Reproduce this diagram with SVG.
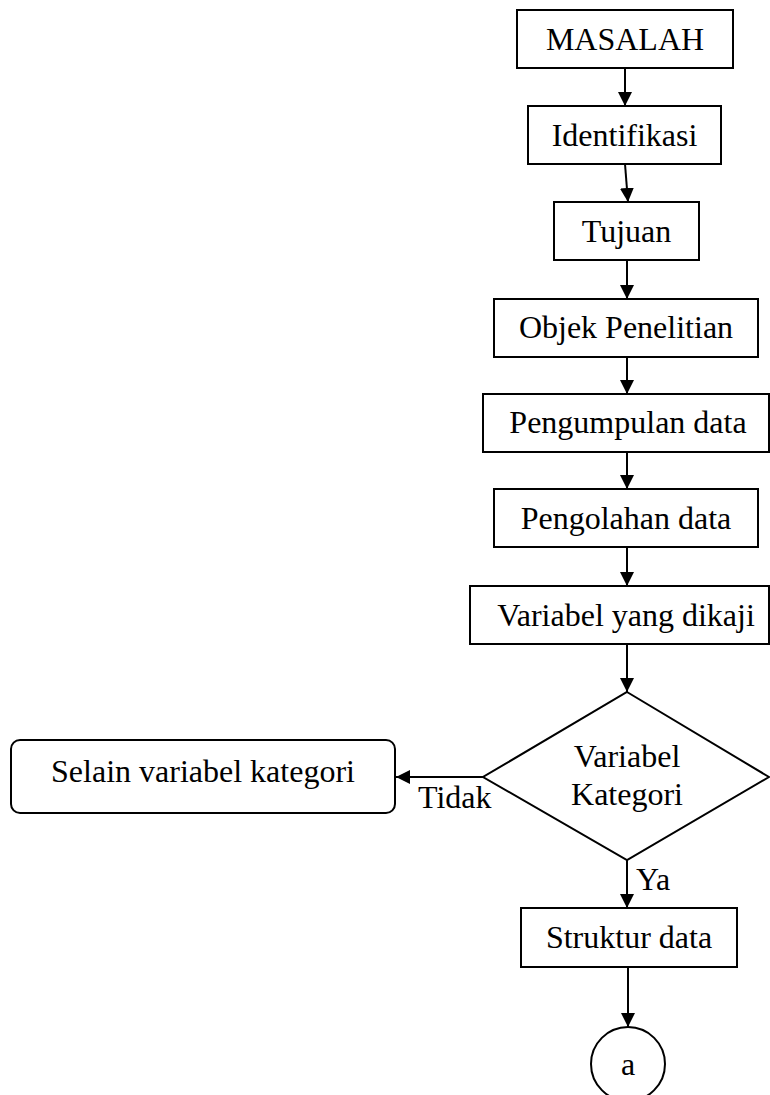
<svg xmlns="http://www.w3.org/2000/svg" width="770" height="1095" viewBox="0 0 770 1095">
<style>
.box{fill:#fff;stroke:#000;stroke-width:2}
text{font-family:'Liberation Serif','Times New Roman','DejaVu Serif',serif;font-size:32px;fill:#000}
.t{text-anchor:middle}
.c{stroke:#000;stroke-width:2;fill:none;marker-end:url(#ah)}
</style>
<defs>
<marker id="ah" markerUnits="userSpaceOnUse" markerWidth="14" markerHeight="16" viewBox="0 0 14 16" refX="14" refY="8" orient="auto">
<path d="M0,1 L14,8 L0,15 Z" fill="#000"/>
</marker>
</defs>
<g id="connectors">
<line class="c" x1="625" y1="68" x2="625" y2="106"/>
<line class="c" x1="625" y1="164" x2="628" y2="202"/>
<line class="c" x1="627" y1="260" x2="627" y2="299"/>
<line class="c" x1="627" y1="357" x2="627" y2="394"/>
<line class="c" x1="627" y1="452" x2="627" y2="489"/>
<line class="c" x1="627" y1="547" x2="627" y2="586"/>
<line class="c" x1="627" y1="644" x2="627" y2="692"/>
<line class="c" x1="483" y1="777" x2="396" y2="777"/>
<line class="c" x1="627" y1="860" x2="627" y2="908"/>
<line class="c" x1="628" y1="967" x2="628" y2="1027"/>
<text x="418" y="808">Tidak</text>
<text x="636" y="890">Ya</text>
</g>
<g id="n-masalah">
<rect class="box" x="517" y="10" width="216" height="58"/>
<text class="t" x="625" y="50">MASALAH</text>
</g>
<g id="n-identifikasi">
<rect class="box" x="528" y="106" width="193" height="58"/>
<text class="t" x="624.5" y="146">Identifikasi</text>
</g>
<g id="n-tujuan">
<rect class="box" x="554" y="202" width="145" height="58"/>
<text class="t" x="626.5" y="242">Tujuan</text>
</g>
<g id="n-objek">
<rect class="box" x="494" y="299" width="264" height="58"/>
<text class="t" x="626" y="338">Objek Penelitian</text>
</g>
<g id="n-pengumpulan">
<rect class="box" x="483" y="394" width="286" height="58"/>
<text class="t" x="628" y="433">Pengumpulan data</text>
</g>
<g id="n-pengolahan">
<rect class="box" x="494" y="489" width="264" height="58"/>
<text class="t" x="626" y="529">Pengolahan data</text>
</g>
<g id="n-variabel">
<rect class="box" x="470" y="586" width="299" height="58"/>
<text class="t" x="626" y="626">Variabel yang dikaji</text>
</g>
<g id="n-decision">
<polygon class="box" points="627,692 769,777 627,860 483,777"/>
<text class="t" x="627" y="767">Variabel</text>
<text class="t" x="627" y="805">Kategori</text>
</g>
<g id="n-selain">
<rect class="box" x="11" y="740" width="384" height="73" rx="9" ry="9"/>
<text class="t" x="203" y="782">Selain variabel kategori</text>
</g>
<g id="n-struktur">
<rect class="box" x="521" y="908" width="216" height="59"/>
<text class="t" x="629" y="948">Struktur data</text>
</g>
<g id="n-a">
<circle class="box" cx="628" cy="1064" r="37"/>
<text class="t" x="628" y="1075">a</text>
</g>
</svg>
